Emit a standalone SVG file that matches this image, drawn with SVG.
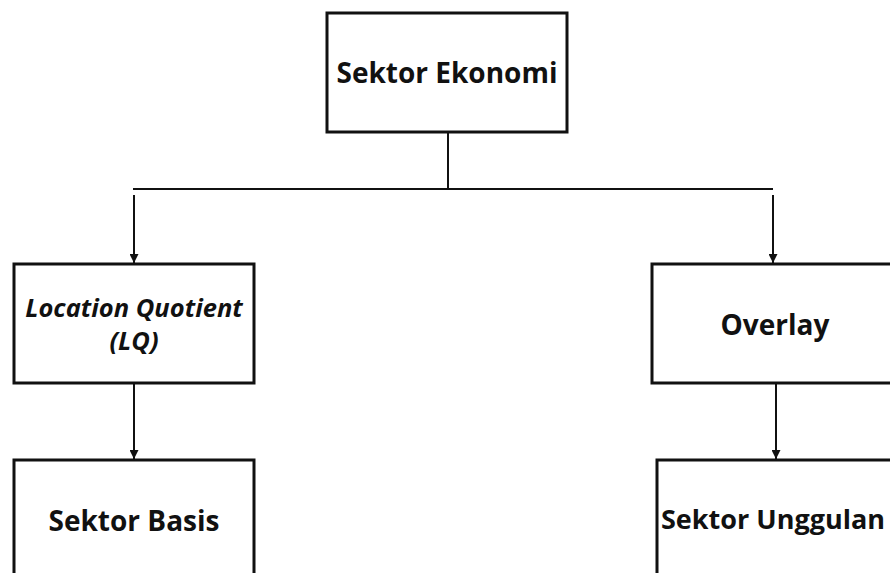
<svg xmlns="http://www.w3.org/2000/svg" width="890" height="573" viewBox="0 0 890 573">
<defs>
<style>
.box{fill:#fff;stroke:#111;stroke-width:3}
.t{font-family:"Open Sans","Liberation Sans",sans-serif;font-weight:700;font-size:28px;fill:#111;text-anchor:middle}
.i{font-style:italic;font-size:25.5px}
.c{fill:none;stroke:#111;stroke-width:2}
</style>
<marker id="ah" viewBox="0 0 10 10" refX="10" refY="5" markerWidth="9" markerHeight="9" markerUnits="userSpaceOnUse" orient="auto">
<path d="M0,0 L10,5 L0,10 z" fill="#111"/>
</marker>
</defs>
<rect width="890" height="573" fill="#fff"/>
<g id="connectors">
<line class="c" x1="448" y1="133" x2="448" y2="189"/>
<line class="c" x1="133" y1="189" x2="773" y2="189"/>
<line class="c" x1="134" y1="195" x2="134" y2="263" marker-end="url(#ah)"/>
<line class="c" x1="773" y1="195" x2="773" y2="263" marker-end="url(#ah)"/>
<line class="c" x1="134" y1="384" x2="134" y2="459" marker-end="url(#ah)"/>
<line class="c" x1="776" y1="384" x2="776" y2="459" marker-end="url(#ah)"/>
</g>
<g id="sektor-ekonomi">
<rect class="box" x="327" y="13" width="240" height="119"/>
<text class="t" x="447" y="83">Sektor Ekonomi</text>
</g>
<g id="location-quotient">
<rect class="box" x="14" y="264" width="240" height="119"/>
<text class="t i" x="134" y="317">Location Quotient</text>
<text class="t i" x="134" y="350">(LQ)</text>
</g>
<g id="overlay">
<rect class="box" x="652" y="264" width="260" height="119"/>
<text class="t" x="775" y="335">Overlay</text>
</g>
<g id="sektor-basis">
<rect class="box" x="14" y="460" width="240" height="130"/>
<text class="t" x="134" y="531">Sektor Basis</text>
</g>
<g id="sektor-unggulan">
<rect class="box" x="657" y="460" width="260" height="130"/>
<text class="t" x="773" y="529" style="font-size:27px">Sektor Unggulan</text>
</g>
</svg>
